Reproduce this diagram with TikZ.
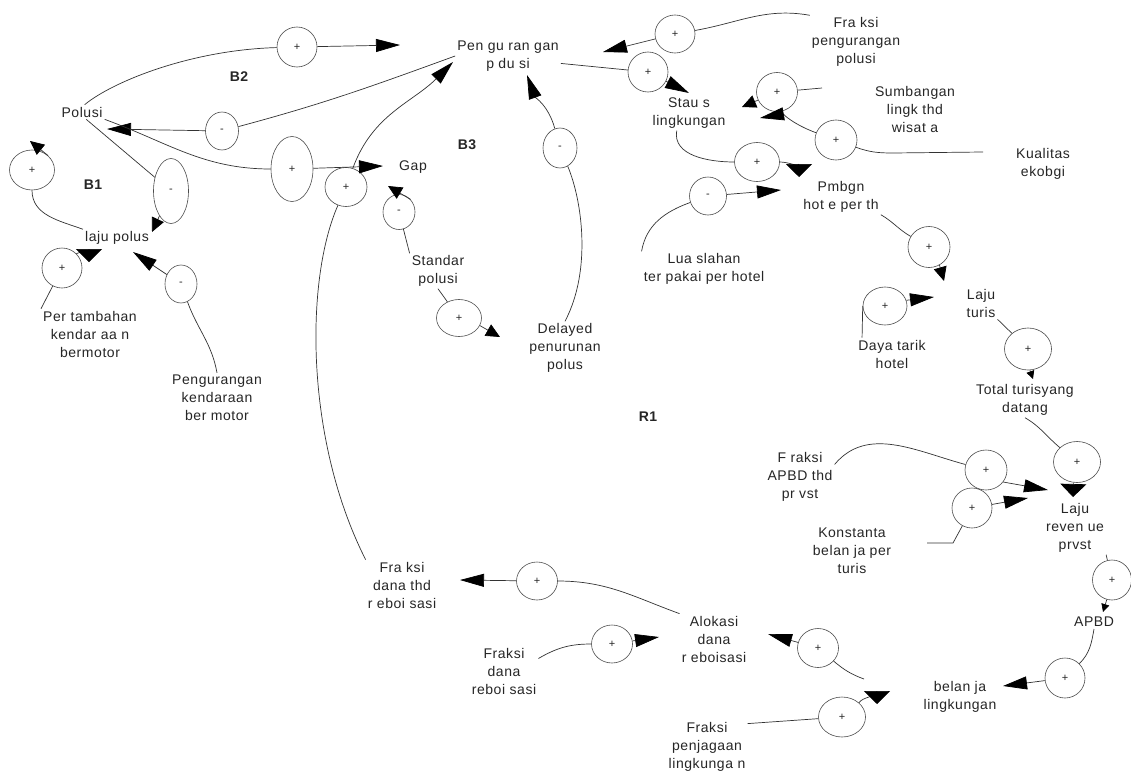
\documentclass[tikz,border=0pt]{standalone}
\usepackage{fontspec}
\setmainfont{Liberation Sans}[LetterSpace=4]
\usetikzlibrary{arrows.meta,shapes.geometric}

\begin{document}
\begin{tikzpicture}[
  x=1pt, y=-1pt,
  font=\fontsize{14}{18}\selectfont,
  color=black!85,
  >={Triangle[length=24pt,width=13pt,color=black]},
  var/.style={align=center, inner sep=2pt},
  loopname/.style={font=\fontsize{14}{18}\selectfont\bfseries},
  pol/.style={draw=black!70, ellipse, line width=0.6pt, inner sep=0pt,
              minimum width=40pt, minimum height=40pt, font=\fontsize{11}{11}\selectfont},
  link/.style={draw=black!80, line width=0.7pt},
  sm/.style={-{Triangle[length=14pt,width=13pt,color=black]}},
  flat/.style={-{Triangle[length=13pt,width=26pt,color=black]}},
  tiny/.style={-{Triangle[length=8pt,width=8pt,color=black]}}
]
\fill[white] (0,0) rectangle (1131,776);
\useasboundingbox (0,0) rectangle (1131,776);

\node[var] (polusi) at (82,112) {Polusi};
\node[var] (lajupol) at (117,238) {laju polus};
\node[var] (tambah) at (90,334) {Per tambahan\\kendar aa n\\bermotor};
\node[var] (pengkend) at (217,398) {Pengurangan\\kendaraan\\ber motor};
\node[var] (pengpol) at (508,56) {Pen gu ran gan\\p du si};
\node[var] (frakpp) at (856,42) {Fra ksi\\pengurangan\\polusi};
\node[var] (status) at (689,113) {Stau s\\lingkungan};
\node[var] (sumbang) at (915,109) {Sumbangan\\lingk thd\\wisat a};
\node[var] (kualitas) at (1043,164) {Kualitas\\ekobgi};
\node[var] (pmbgn) at (841,197) {Pmbgn\\hot e per th};
\node[var] (luas) at (704,269) {Lua slahan\\ter pakai per hotel};
\node[var] (gap) at (413,167) {Gap};
\node[var] (standar) at (438,271) {Standar\\polusi};
\node[var] (delayed) at (565,348) {Delayed\\penurunan\\polus};
\node[var] (lajuturis) at (981,303) {Laju\\turis};
\node[var] (daya) at (892,354) {Daya tarik\\hotel};
\node[var] (total) at (1025,400) {Total turisyang\\datang};
\node[var] (frakapbd) at (800,477) {F raksi\\APBD thd\\pr vst};
\node[var] (konst) at (852,551) {Konstanta\\belan ja per\\turis};
\node[var] (lajurev) at (1075,528) {Laju\\reven ue\\prvst};
\node[var] (apbd) at (1094,622) {APBD};
\node[var] (belanja) at (960,697) {belan ja\\lingkungan};
\node[var] (frakdthd) at (402,585) {Fra ksi\\dana thd\\r eboi sasi};
\node[var] (frakdr) at (504,671) {Fraksi\\dana\\reboi sasi};
\node[var] (alokasi) at (714,639) {Alokasi\\dana\\r eboisasi};
\node[var] (frakpl) at (707,747) {Fraksi\\penjagaan\\lingkunga n};

\node[loopname] (b2) at (239,77) {B2};
\node[loopname] (b1) at (93,185) {B1};
\node[loopname] (b3) at (467,145) {B3};
\node[loopname] (r1) at (648,417) {R1};

\node[pol] (c1) at (297,47) {+};
\node[pol, minimum width=33pt, minimum height=38pt] (c2) at (222,131) {-};
\node[pol, minimum width=42pt, minimum height=65pt] (c3) at (292,169) {+};
\node[pol, minimum width=42pt, minimum height=39pt] (c4) at (346,187) {+};
\node[pol, minimum width=35pt, minimum height=65pt] (c5) at (171,191) {-};
\node[pol, minimum width=45pt] (c6) at (32,170) {+};
\node[pol] (c7) at (62,268) {+};
\node[pol, minimum width=32pt, minimum height=38pt] (c8) at (181,284) {-};
\node[pol, minimum width=32pt, minimum height=35pt] (c9) at (399,212) {-};
\node[pol, minimum width=45pt, minimum height=37pt] (c10) at (459,318) {+};
\node[pol, minimum width=34pt] (c11) at (560,148) {-};
\node[pol, minimum height=38pt] (c12) at (675,34) {+};
\node[pol] (c13) at (648,72) {+};
\node[pol, minimum width=41pt, minimum height=39pt] (c14) at (777,92) {+};
\node[pol, minimum width=42pt] (c15) at (836,140) {+};
\node[pol, minimum width=45pt, minimum height=39pt] (c16) at (757,162) {+};
\node[pol, minimum width=37pt, minimum height=38pt] (c17) at (708,196) {-};
\node[pol, minimum width=42pt, minimum height=41pt] (c18) at (929,247) {+};
\node[pol, minimum width=44pt, minimum height=38pt] (c19) at (885,306) {+};
\node[pol, minimum width=47pt, minimum height=42pt] (c20) at (1028,349) {+};
\node[pol, minimum width=47pt, minimum height=41pt] (c21) at (1077,462) {+};
\node[pol, minimum width=42pt] (c22) at (986,470) {+};
\node[pol] (c23) at (972,508) {+};
\node[pol, minimum width=39pt] (c24) at (1112,580) {+};
\node[pol] (c25) at (1065,678) {+};
\node[pol, minimum width=41pt, minimum height=39pt] (c26) at (818,648) {+};
\node[pol, minimum width=47pt] (c27) at (842,717) {+};
\node[pol, minimum width=41pt, minimum height=38pt] (c28) at (612,644) {+};
\node[pol, minimum width=41pt, minimum height=38pt] (c29) at (537,581) {+};

\coordinate (tipA) at (400,45);
\coordinate (tipB) at (107,129);
\coordinate (tipC) at (383,166);
\coordinate (tipD) at (152,232);
\coordinate (tipE) at (30,141);
\coordinate (tipF) at (89,262);
\coordinate (tipG) at (133,252);
\coordinate (tipH) at (453,62);
\coordinate (tipI) at (388,186);
\coordinate (tipJ) at (500,337);
\coordinate (tipK) at (527,75);
\coordinate (tipL) at (603,52);
\coordinate (tipM) at (689,93);
\coordinate (tipN) at (742,107);
\coordinate (tipO) at (760,118);
\coordinate (tipP) at (799,177);
\coordinate (tipQ) at (781,190);
\coordinate (tipR) at (944,281);
\coordinate (tipS) at (934,297);
\coordinate (tipT) at (1033,379);
\coordinate (tipU) at (1073,497);
\coordinate (tipV) at (1048,490);
\coordinate (tipW) at (1028,498);
\coordinate (tipX) at (1103,612);
\coordinate (tipY) at (1003,686);
\coordinate (tipZ) at (768,634);
\coordinate (tipAA) at (877,704);
\coordinate (tipAB) at (659,637);
\coordinate (tipAC) at (460,580);
\coordinate (sumbin) at (822,88);
\coordinate (kualin) at (983,152);
\coordinate (konstin) at (927,543);
\coordinate (belout) at (864,679);

\draw[link] (polusi.70) .. controls (112,82) and (190,50) .. (c1);
\draw[link,->] (c1) -- (tipA);
\draw[link] (pengpol.west) to[out=200,in=15] (c2);
\draw[link,->] (c2) -- (tipB);
\draw[link] (polusi.south east) to[out=-20,in=180] (c3);
\draw[link,->] (c3) -- (tipC);
\draw[link] (polusi.-60) -- (c5);
\draw[link,sm] (c5) -- (tipD);
\draw[link] (lajupol.north west) to[out=160,in=-90] (c6);
\draw[link,sm] (c6.north east) -- (tipE);
\draw[link] (tambah.north west) -- (c7);
\draw[link,flat] (c7.north east) to[out=40,in=90] (tipF);
\draw[link] (pengkend.north) to[out=100,in=-70] (c8);
\draw[link,->] (c8) -- (tipG);

\draw[link] (frakdthd.north west) .. controls (305,440) and (305,280) .. (c4);
\draw[link,->] (c4) to[out=70,in=225] (tipH);
\draw[link] (standar.north west) -- (c9);
\draw[link,sm] (c9.north east) -- (tipI);
\draw[link] (standar.south) -- (c10);
\draw[link,sm] (c10.-20) -- (tipJ);
\draw[link] (delayed.north) .. controls (592,270) and (582,200) .. (c11);
\draw[link,->] (c11) to[out=105,in=-70] (tipK);

\draw[link] (frakpp.north west) to[out=170,in=10] (c12);
\draw[link,->] (c12) -- (tipL);
\draw[link] (pengpol.-8) -- (c13);
\draw[link,->] (c13) -- (tipM);
\draw[link] (sumbin) -- (c14);
\draw[link,sm] (c14) -- (tipN);
\draw[link] (kualin) -- ++(-90,1) to[out=180,in=-20] (c15);
\draw[link,->] (c15) to[out=160,in=10] (tipO);
\draw[link] (status.235) to[out=-100,in=180] (c16);
\draw[link,flat] (c16) to[out=0,in=90] (tipP);
\draw[link] (luas.north west) to[out=80,in=200] (c17);
\draw[link,->] (c17) -- (tipQ);

\draw[link] (pmbgn.south east) to[out=-30,in=150] (c18);
\draw[link,sm] (c18.-60) -- (tipR);
\draw[link] ([xshift=6pt]daya.north west) -- (c19.west);
\draw[link,->] (c19.15) -- (tipS);
\draw[link] (lajuturis.south east) -- (c20);
\draw[link,tiny] (c20.-85) -- (tipT);
\draw[link] (total.south) to[out=-30,in=140] (c21);
\draw[link,flat] (c21.-100) -- (tipU);
\draw[link] (frakapbd.20) to[out=50,in=165] (c22);
\draw[link,->] (c22.-35) -- (tipV);
\draw[link] (konstin) -- ++(26,0) -- (c23);
\draw[link,->] (c23) -- (tipW);
\draw[link] (lajurev.south east) -- (c24);
\draw[link,tiny] (c24.-105) -- (tipX);
\draw[link] (apbd.south) to[out=-100,in=45] (c25);
\draw[link,->] (c25) -- (tipY);

\draw[link] (belout) to[out=160,in=-40] (c26);
\draw[link,->] (c26) -- (tipZ);
\draw[link] (frakpl.30) -- (c27);
\draw[link,flat] (c27.40) to[out=60,in=90] (tipAA);
\draw[link] (frakdr.20) to[out=30,in=180] (c28);
\draw[link,->] (c28) -- (tipAB);
\draw[link] (alokasi.north west) to[out=160,in=0] (c29);
\draw[link,->] (c29) -- (tipAC);
\end{tikzpicture}
\end{document}
